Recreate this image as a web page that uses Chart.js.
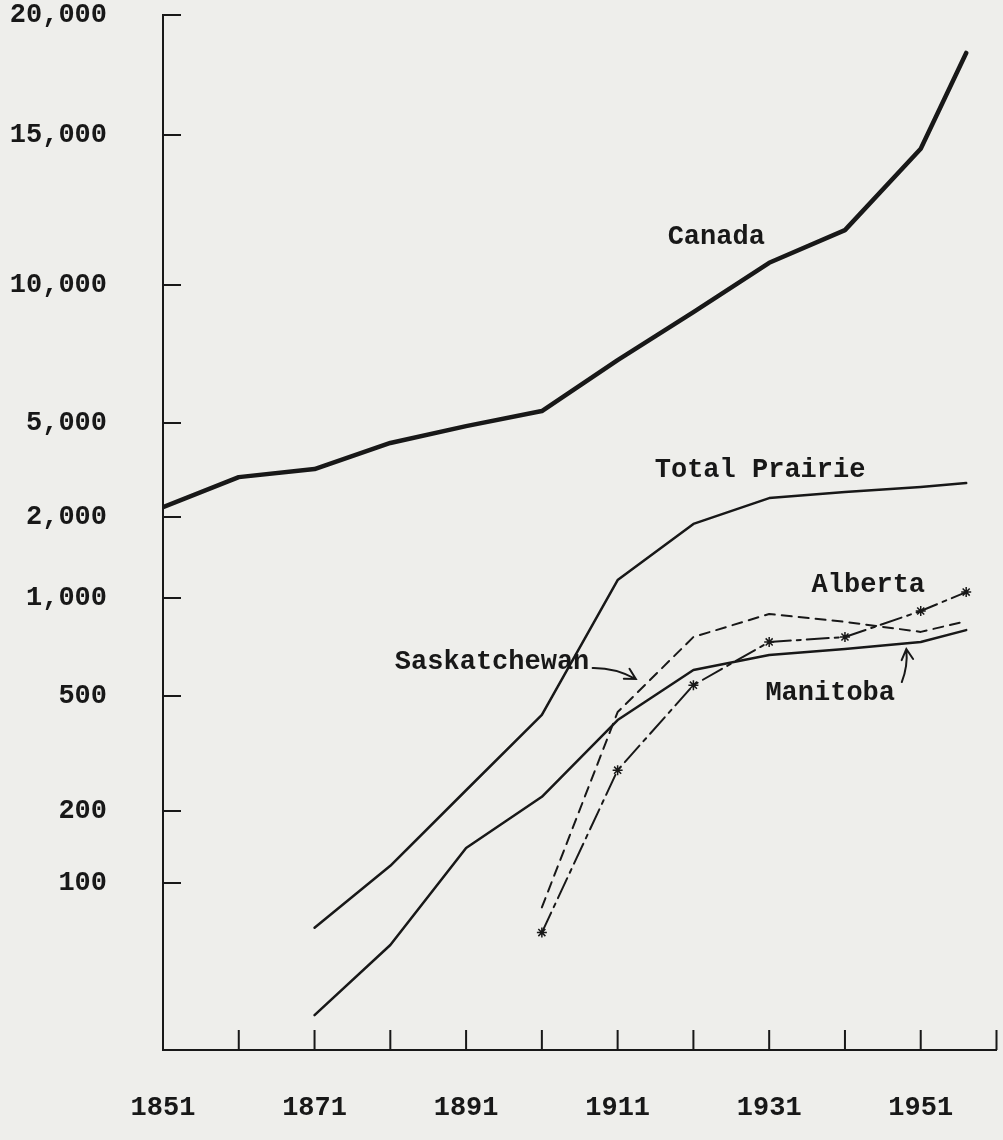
<!DOCTYPE html>
<html>
<head>
<meta charset="utf-8">
<title>Population of Canada and the Prairie Provinces</title>
<script src="https://cdn.jsdelivr.net/npm/chart.js"></script>
<style>
    body { margin: 0; background: #eeeeeb; }
    canvas { display: block; }
</style>
</head>
<body>
<canvas id="popChart" width="1003" height="1140"></canvas>
<script>
// census years (last point is drawn a bit past 1951 in the original)
const years = [1851, 1861, 1871, 1881, 1891, 1901, 1911, 1921, 1931, 1941, 1951, 1957]

// population, thousands
const canada = [2200, 2950, 3190, 4115, 4850, 5310, 6860, 8730, 10620, 11600, 14450, 18260]
const totalPrairie = [null, null, 65, 118, 236, 430, 1166, 1885, 2405, 2552, 2680, 2785]
const manitoba = [null, null, 28, 55, 140, 224, 413, 601, 668, 697, 733, 797]
const saskatchewan = [null, null, null, null, null, 79, 440, 759, 893, 845, 787, 849]
const alberta = [null, null, null, null, null, 62, 277, 540, 733, 759, 912, 1052]

// axes
const yTicks = [100, 200, 500, 1000, 2000, 5000, 10000, 15000, 20000]
const xTicks = [1851, 1861, 1871, 1881, 1891, 1901, 1911, 1921, 1931, 1941, 1951, 1961]
const xLabels = [1851, 1871, 1891, 1911, 1931, 1951]

// line labels written on the chart
const noteText = ['Canada', 'Total Prairie', 'Alberta', 'Saskatchewan', 'Manitoba']
const noteYear = [1917.6, 1915.9, 1936.6, 1881.6, 1930.5]
const noteValue = [11380, 3160, 1117, 635, 511]

const ink = '#181818'

function points(values) {
    return years.map((yr, i) => ({ x: yr, y: values[i] }))
}

// the hand drawn vertical axis is neither linear nor log:
// each tick sits at its own height, values between ticks go log-wise
class StepLogScale extends Chart.LinearScale {
    determineDataLimits() {
        const s = this.options.stops
        this.min = s[0][0]
        this.max = s[s.length - 1][0]
    }
    buildTicks() {
        return yTicks.map(v => ({ value: v }))
    }
    toDecimal(value) {
        const s = this.options.stops
        let i = 1
        while (i < s.length - 1 && value > s[i][0]) i++
        const a = s[i - 1], b = s[i]
        const t = (Math.log(value) - Math.log(a[0])) / (Math.log(b[0]) - Math.log(a[0]))
        return a[1] + t * (b[1] - a[1])
    }
    getPixelForValue(value) {
        if (value === null || value === undefined || isNaN(value) || value <= 0) return NaN
        return this.getPixelForDecimal(this.toDecimal(value))
    }
    getValueForPixel(pixel) {
        const s = this.options.stops
        const d = this.getDecimalForPixel(pixel)
        let i = 1
        while (i < s.length - 1 && d > s[i][1]) i++
        const a = s[i - 1], b = s[i]
        const t = (d - a[1]) / (b[1] - a[1])
        return Math.exp(Math.log(a[0]) + t * (Math.log(b[0]) - Math.log(a[0])))
    }
}
StepLogScale.id = 'steplog'
StepLogScale.defaults = {}
Chart.register(StepLogScale)

// keep the plot box fixed: no extra room for the end labels
function noEdgePadding(s) {
    s.paddingTop = 0
    s.paddingBottom = 0
    s.paddingLeft = 0
    s.paddingRight = 0
}

// tick marks point into the plot, like the original
const inwardTicks = {
    id: 'inwardTicks',
    afterDraw(chart) {
        const ctx = chart.ctx
        const xs = chart.scales.x
        const ys = chart.scales.y
        ctx.save()
        ctx.strokeStyle = ink
        ctx.lineWidth = 2
        ctx.beginPath()
        ys.ticks.forEach((t, i) => {
            const py = ys.getPixelForTick(i)
            ctx.moveTo(ys.right, py)
            ctx.lineTo(ys.right + 18, py)
        })
        xs.ticks.forEach((t, i) => {
            const px = xs.getPixelForTick(i)
            ctx.moveTo(px, xs.top)
            ctx.lineTo(px, xs.top - 20)
        })
        ctx.stroke()
        ctx.restore()
    }
}

// typed labels and the two little arrows
const lineNotes = {
    id: 'lineNotes',
    afterDatasetsDraw(chart) {
        const ctx = chart.ctx
        const xs = chart.scales.x
        const ys = chart.scales.y
        ctx.save()
        ctx.fillStyle = ink
        ctx.font = 'bold 27px "Liberation Mono", monospace'
        ctx.textAlign = 'left'
        ctx.textBaseline = 'middle'
        noteText.forEach((txt, i) => {
            ctx.fillText(txt, xs.getPixelForValue(noteYear[i]), ys.getPixelForValue(noteValue[i]))
        })

        const arrows = [
            { from: [1907.7, 610], to: [1913.4, 564], bend: -6 },
            { from: [1948.5, 552], to: [1949.1, 697], bend: 4 }
        ]
        ctx.strokeStyle = ink
        ctx.lineWidth = 2
        ctx.lineCap = 'round'
        arrows.forEach(a => {
            const x1 = xs.getPixelForValue(a.from[0]), y1 = ys.getPixelForValue(a.from[1])
            const x2 = xs.getPixelForValue(a.to[0]), y2 = ys.getPixelForValue(a.to[1])
            const dx = x2 - x1, dy = y2 - y1
            const len = Math.hypot(dx, dy)
            const cx = (x1 + x2) / 2 - dy / len * a.bend
            const cy = (y1 + y2) / 2 + dx / len * a.bend
            ctx.beginPath()
            ctx.moveTo(x1, y1)
            ctx.quadraticCurveTo(cx, cy, x2, y2)
            const ang = Math.atan2(y2 - cy, x2 - cx)
            ctx.moveTo(x2 - 12 * Math.cos(ang - 0.5), y2 - 12 * Math.sin(ang - 0.5))
            ctx.lineTo(x2, y2)
            ctx.lineTo(x2 - 12 * Math.cos(ang + 0.5), y2 - 12 * Math.sin(ang + 0.5))
            ctx.stroke()
        })
        ctx.restore()
    }
}

Chart.defaults.font.family = '"Liberation Mono", monospace'
Chart.defaults.font.size = 27
Chart.defaults.font.weight = 'bold'
Chart.defaults.color = ink

var popChart = new Chart(
    document.getElementById('popChart'),
    {
        type: 'line',

        data: {
            datasets: [
                {
                    label: 'Canada',
                    data: points(canada),
                    borderColor: ink,
                    borderWidth: 4.5,
                    pointRadius: 0
                },
                {
                    label: 'Total Prairie',
                    data: points(totalPrairie),
                    borderColor: ink,
                    borderWidth: 2.5,
                    pointRadius: 0
                },
                {
                    label: 'Manitoba',
                    data: points(manitoba),
                    borderColor: ink,
                    borderWidth: 2.5,
                    pointRadius: 0
                },
                {
                    label: 'Saskatchewan',
                    data: points(saskatchewan),
                    borderColor: ink,
                    borderWidth: 2,
                    borderDash: [10, 7],
                    pointRadius: 0
                },
                {
                    label: 'Alberta',
                    data: points(alberta),
                    borderColor: ink,
                    borderWidth: 2,
                    borderDash: [22, 6, 4, 6],
                    pointStyle: 'star',
                    pointRadius: 5,
                    pointBorderWidth: 1.5,
                    pointBorderColor: ink,
                    pointBackgroundColor: ink
                }
            ]
        },

        options: {
            responsive: false,
            animation: false,
            layout: {
                padding: { top: 15, right: 6, left: 0, bottom: 0 }
            },
            elements: {
                line: { tension: 0, borderCapStyle: 'round', borderJoinStyle: 'round' }
            },
            scales: {
                x: {
                    type: 'linear',
                    min: 1851,
                    max: 1961,
                    afterBuildTicks: s => { s.ticks = xTicks.map(v => ({ value: v })) },
                    afterFit: s => { s.height = 90; noEdgePadding(s) },
                    grid: { drawOnChartArea: false, drawTicks: false },
                    border: { color: ink, width: 2 },
                    ticks: {
                        autoSkip: false,
                        maxRotation: 0,
                        padding: 42,
                        callback: v => xLabels.includes(v) ? String(v) : ''
                    }
                },
                y: {
                    type: 'steplog',
                    stops: [[20, 0], [100, 0.1614], [200, 0.2309], [500, 0.3420], [1000, 0.4367],
                            [2000, 0.5150], [5000, 0.6058], [10000, 0.7391], [15000, 0.8841], [20000, 1]],
                    afterFit: s => { s.width = 163; noEdgePadding(s) },
                    grid: { drawOnChartArea: false, drawTicks: false },
                    border: { color: ink, width: 2 },
                    ticks: {
                        padding: 56,
                        callback: v => v.toLocaleString('en-US')
                    }
                }
            },
            plugins: {
                legend: { display: false },
                tooltip: { enabled: true }
            }
        },

        plugins: [inwardTicks, lineNotes]
    }
);
</script>
</body>
</html>
